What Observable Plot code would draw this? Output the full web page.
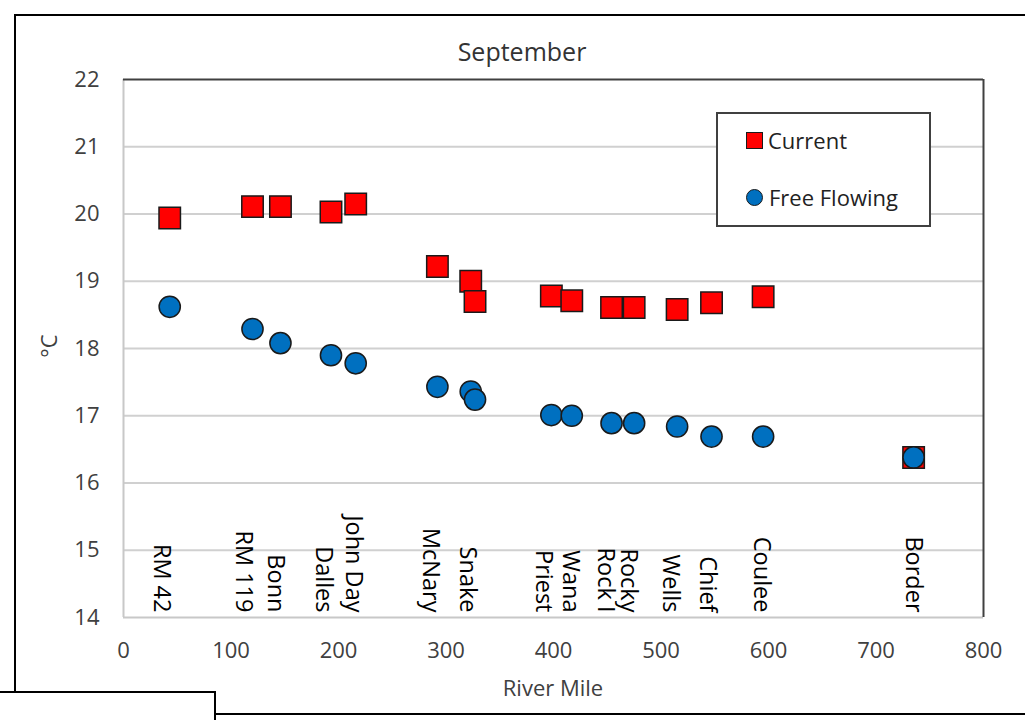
<!DOCTYPE html>
<html>
<head>
<meta charset="utf-8">
<script src="https://cdn.jsdelivr.net/npm/d3@7"></script>
<script src="https://cdn.jsdelivr.net/npm/@observablehq/plot@0.6"></script>
<style>
  html, body { margin: 0; padding: 0; background: #fff; }
  #wrap { position: relative; width: 1025px; height: 720px; overflow: hidden; font-family: "Open Sans", sans-serif; }
  #chart { position: absolute; left: 0; top: 0; }
  .line { position: absolute; background: #000; }
  .txt { position: absolute; white-space: nowrap; }
  #legend { position: absolute; left: 716px; top: 112px; width: 211px; height: 111px; border: 2px solid #404040; background: #fff; }
  .sw { position: absolute; box-sizing: border-box; border: 1.5px solid #1a1a1a; }
</style>
</head>
<body>
<div id="wrap">
  <div id="chart"></div>
</div>
<script>
// ---- data ----
const riverMile   = [43, 120, 146, 193, 216, 292, 323, 327, 398, 417, 454, 475, 515, 547, 595, 735];
const current     = [19.94, 20.11, 20.11, 20.03, 20.15, 19.22, 19.00, 18.70, 18.78, 18.71, 18.61, 18.61, 18.58, 18.68, 18.77, 16.38];
const freeFlowing = [18.62, 18.29, 18.08, 17.90, 17.78, 17.43, 17.36, 17.24, 17.01, 17.00, 16.89, 16.89, 16.84, 16.69, 16.69, 16.38];
const siteNames   = ["RM 42", "RM 119", "Bonn", "Dalles", "John Day", "McNary", "Snake", "Priest", "Wana", "Rock I", "Rocky", "Wells", "Chief", "Coulee", "Border"];
const siteMiles   = [34, 110.6, 140, 185, 212.9, 284.1, 318.2, 389.5, 414.3, 446.8, 468.6, 507.3, 541.4, 592.5, 733.6];
const xTicks = [0, 100, 200, 300, 400, 500, 600, 700, 800];
const yTicks = [14, 15, 16, 17, 18, 19, 20, 21, 22];
const gridY  = [15, 16, 17, 18, 19, 20, 21];
const seriesNames = ["Current", "Free Flowing"];
const title = "September";
const xLabel = "River Mile";
const yLabel = "°C";

const rowsCurrent = riverMile.map((m, i) => ({mile: m, temp: current[i]}));
const rowsFree = riverMile.map((m, i) => ({mile: m, temp: freeFlowing[i]}));
const sites = siteNames.map((n, i) => ({name: n, mile: siteMiles[i]}));

const chart = Plot.plot({
  width: 1025,
  height: 720,
  marginLeft: 123,
  marginRight: 42,
  marginTop: 79,
  marginBottom: 103,
  style: {fontFamily: "Open Sans", fontSize: "22px", background: "transparent", overflow: "visible"},
  x: {domain: [0, 800], ticks: xTicks, tickSize: 0, tickPadding: 25, label: null},
  y: {domain: [14, 22], ticks: yTicks, tickSize: 0, tickPadding: 24, label: null},
  marks: [
    Plot.ruleY(gridY, {stroke: "#d0d0d0", strokeWidth: 2}),
    Plot.ruleX([0], {stroke: "#c8c8c8", strokeWidth: 2}),
    Plot.ruleY([14], {stroke: "#c8c8c8", strokeWidth: 2}),
    Plot.ruleY([22], {stroke: "#404040", strokeWidth: 2}),
    Plot.ruleX([800], {stroke: "#404040", strokeWidth: 2}),
    Plot.axisX({ticks: xTicks, tickSize: 0, tickPadding: 25, label: null, fill: "#404040", fontSize: 22}),
    Plot.axisY({ticks: yTicks, tickSize: 0, tickPadding: 24, label: null, fill: "#404040", fontSize: 22}),
    Plot.text(sites, {x: "mile", text: "name", frameAnchor: "bottom", dy: -5, dx: -6, rotate: 90, textAnchor: "end", fill: "#000", fontSize: 23.5}),
    Plot.dot(rowsCurrent, {x: "mile", y: "temp", symbol: "square", r: 12.1, fill: "#ff0000", stroke: "#1a1a1a", strokeWidth: 1.5}),
    Plot.dot(rowsFree, {x: "mile", y: "temp", symbol: "circle", r: 10.6, fill: "#0070c0", stroke: "#1a1a1a", strokeWidth: 1.5})
  ]
});
document.getElementById("chart").appendChild(chart);

const wrap = document.getElementById("wrap");
function addLine(l, t, w, h) {
  const d = document.createElement("div");
  d.className = "line";
  Object.assign(d.style, {left: l + "px", top: t + "px", width: w + "px", height: h + "px"});
  wrap.appendChild(d);
}
// outer chart frame (page decoration)
addLine(14, 14, 1011, 2);
addLine(14, 14, 2, 678);
addLine(0, 691, 216, 2);
addLine(214, 691, 2, 29);
addLine(214, 713, 811, 2);

function addText(str, css) {
  const d = document.createElement("div");
  d.className = "txt";
  d.textContent = str;
  Object.assign(d.style, css);
  wrap.appendChild(d);
  return d;
}
// title
addText(title, {left: "422px", width: "200px", textAlign: "center", top: "34px", fontSize: "25px", color: "#333", lineHeight: "34px"});
// x label
addText(xLabel, {left: "453px", width: "200px", textAlign: "center", top: "672px", fontSize: "22px", color: "#404040", lineHeight: "30px"});
// y label
addText(yLabel, {left: "18px", width: "60px", textAlign: "center", top: "331px", fontSize: "22px", color: "#404040", lineHeight: "30px", transform: "rotate(-90deg)"});

// legend
const lg = document.createElement("div");
lg.id = "legend";
wrap.appendChild(lg);
const sq = document.createElement("div");
sq.className = "sw";
Object.assign(sq.style, {left: "28px", top: "18px", width: "17px", height: "17px", background: "#ff0000"});
lg.appendChild(sq);
const ci = document.createElement("div");
ci.className = "sw";
Object.assign(ci.style, {left: "28px", top: "75px", width: "17px", height: "17px", background: "#0070c0", borderRadius: "50%"});
lg.appendChild(ci);
const t1 = document.createElement("div");
t1.className = "txt";
t1.textContent = seriesNames[0];
Object.assign(t1.style, {left: "50px", top: "11px", fontSize: "22px", lineHeight: "30px", color: "#222"});
lg.appendChild(t1);
const t2 = document.createElement("div");
t2.className = "txt";
t2.textContent = seriesNames[1];
Object.assign(t2.style, {left: "51px", top: "68px", fontSize: "22px", lineHeight: "30px", color: "#222"});
lg.appendChild(t2);
</script>
</body>
</html>
